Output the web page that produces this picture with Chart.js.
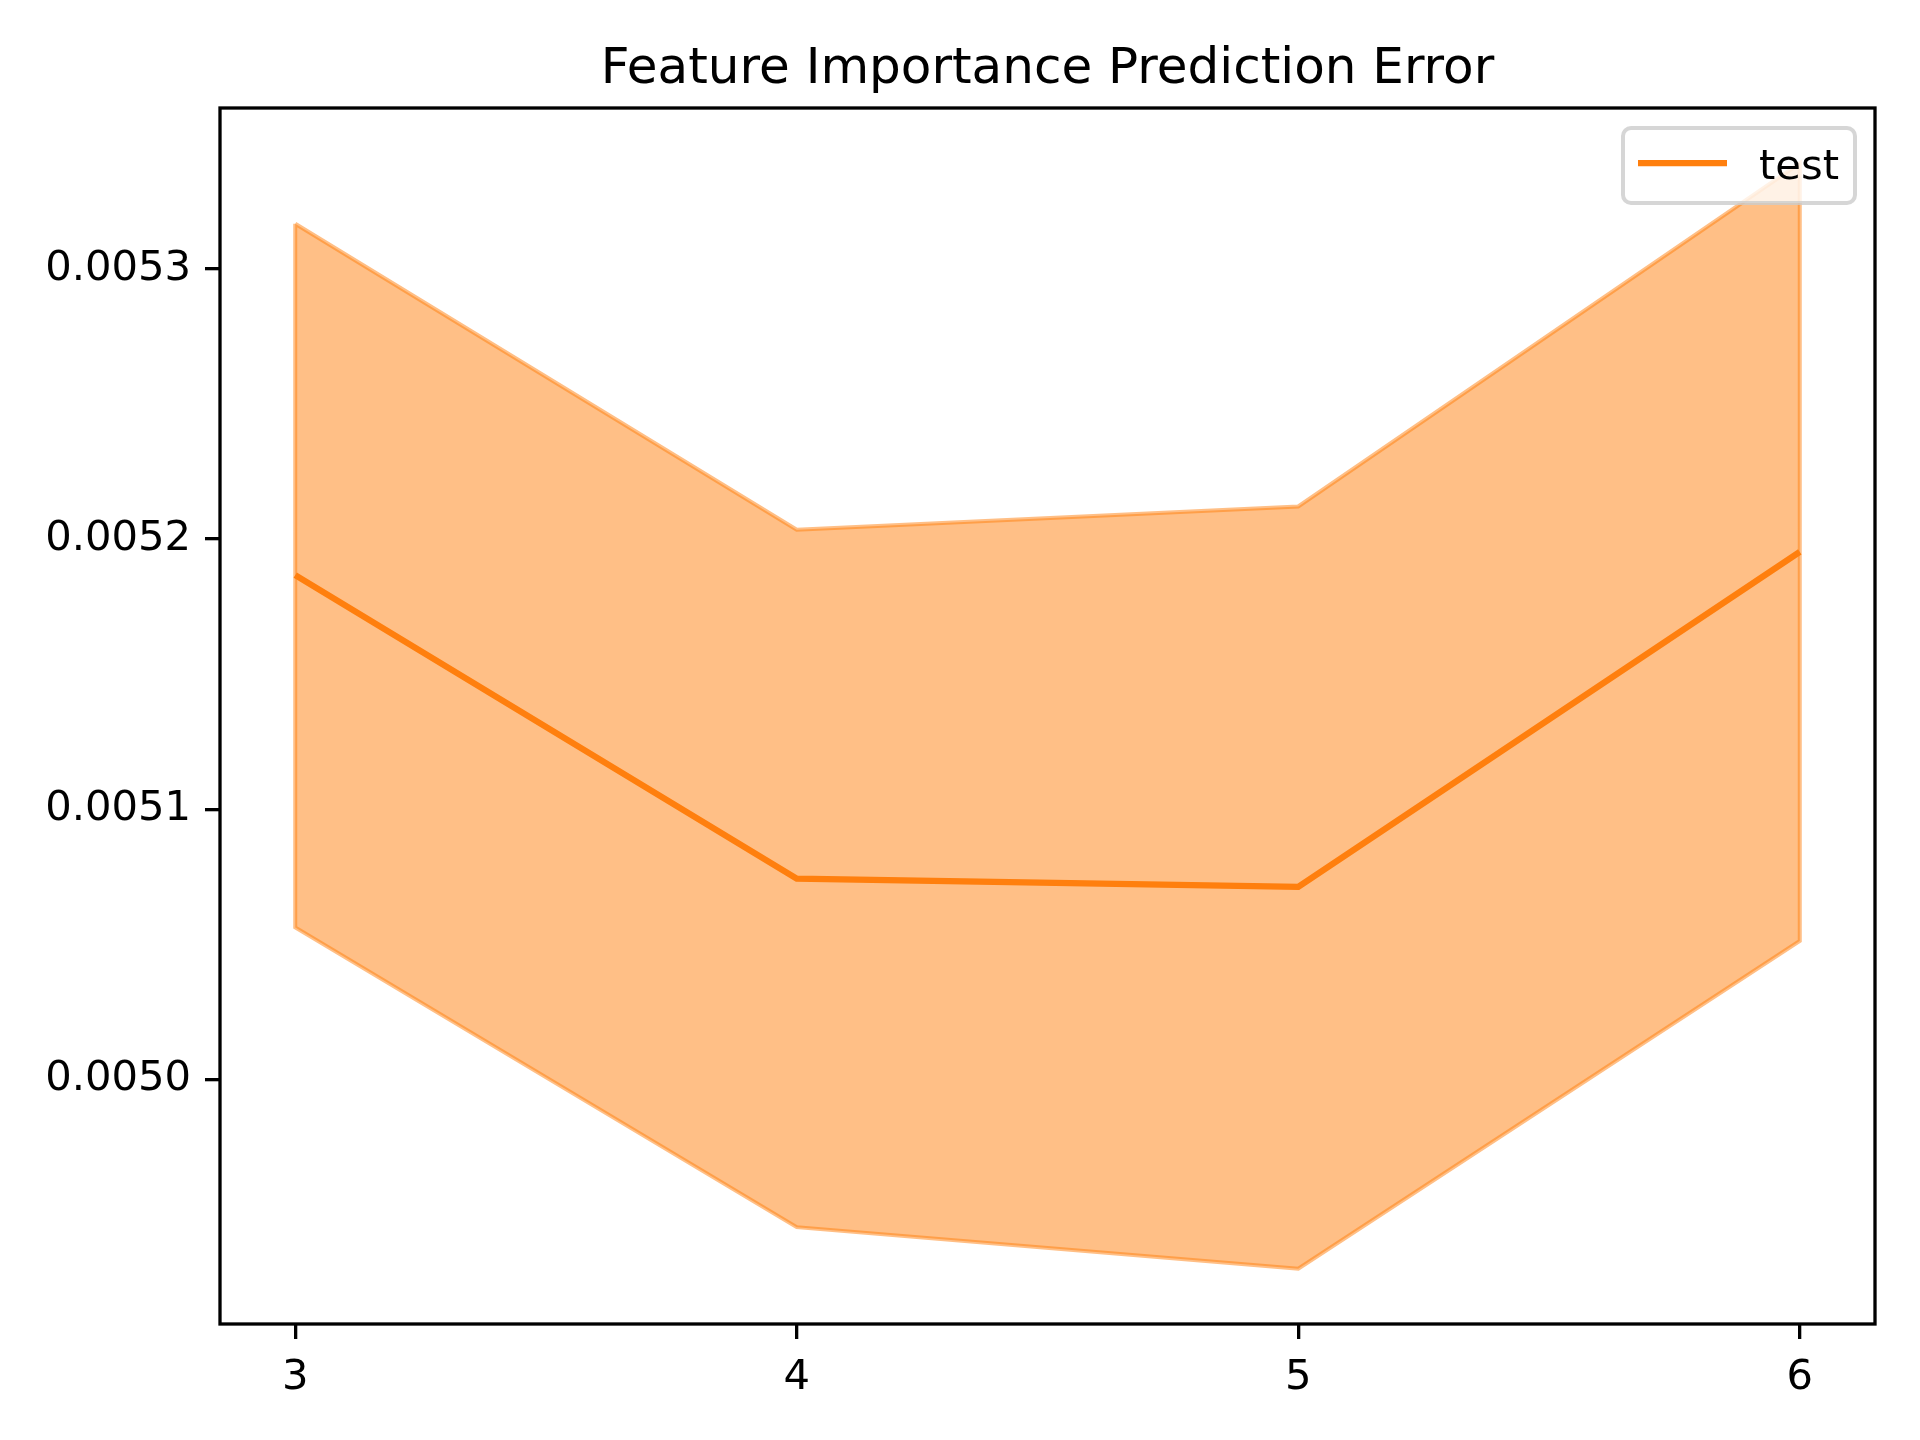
<!DOCTYPE html>
<html>
<head>
<meta charset="utf-8">
<title>Feature Importance Prediction Error</title>
<script src="https://cdn.jsdelivr.net/npm/chart.js@4.4.0/dist/chart.umd.min.js"></script>
<style>
  html, body { margin: 0; padding: 0; background: #fff; }
  #wrap { width: 1920px; height: 1440px; }
</style>
</head>
<body>
<div id="wrap"><canvas id="chart"></canvas></div>
<script>
const xValues = [3, 4, 5, 6];
const meanValues = [0.0051867, 0.0050743, 0.0050712, 0.0051953];
const upperValues = [0.0053168, 0.0052035, 0.0052121, 0.0053392];
const lowerValues = [0.0050562, 0.0049452, 0.0049298, 0.0050512];
const xTicks = [3, 4, 5, 6];
const yTicks = [0.0050, 0.0051, 0.0052, 0.0053];
const seriesLabel = "test";

const ORANGE = "#ff7f0e";
const ORANGE_HALF = "rgba(255,127,14,0.5)";
const FONT = "'DejaVu Sans', sans-serif";

// matplotlib-like 5% margins
const xSpan = xValues[xValues.length - 1] - xValues[0];
const yLo = Math.min(...lowerValues), yHi = Math.max(...upperValues);
const ySpan = yHi - yLo;

const meanPoints = xValues.map((x, i) => ({ x, y: meanValues[i] }));
const bandPoints = [
  ...xValues.map((x, i) => ({ x, y: upperValues[i] })),
  ...xValues.map((x, i) => ({ x, y: lowerValues[i] })).reverse(),
  { x: xValues[0], y: upperValues[0] },
];

const framePlugin = {
  id: "frame",
  afterDraw(chart) {
    const { ctx, chartArea: a } = chart;
    ctx.save();
    ctx.strokeStyle = "#000";
    ctx.lineWidth = 3.3;
    ctx.strokeRect(a.left, a.top, a.right - a.left, a.bottom - a.top);
    ctx.restore();
  },
};

const legendPlugin = {
  id: "mplLegend",
  afterDatasetsDraw(chart) {
    const { ctx, chartArea: a } = chart;
    const left = a.right - 252, right = a.right - 20;
    const top = a.top + 20, bottom = a.top + 95;
    ctx.save();
    ctx.beginPath();
    ctx.roundRect(left, top, right - left, bottom - top, 8);
    ctx.fillStyle = "rgba(255,255,255,0.8)";
    ctx.fill();
    ctx.strokeStyle = "rgba(204,204,204,0.8)";
    ctx.lineWidth = 4;
    ctx.stroke();
    ctx.beginPath();
    ctx.moveTo(a.right - 237, a.top + 55);
    ctx.lineTo(a.right - 148, a.top + 55);
    ctx.strokeStyle = ORANGE;
    ctx.lineWidth = 6.25;
    ctx.stroke();
    ctx.fillStyle = "#000";
    ctx.font = `41.7px ${FONT}`;
    ctx.textBaseline = "alphabetic";
    ctx.textAlign = "left";
    ctx.fillText(seriesLabel, a.right - 116, a.top + 71);
    ctx.restore();
  },
};

const tickGrid = {
  drawOnChartArea: false,
  drawTicks: true,
  tickLength: 15,
  color: "#000",
  lineWidth: 3.3,
};

new Chart(document.getElementById("chart"), {
  type: "line",
  data: {
    datasets: [
      {
        label: seriesLabel,
        data: meanPoints,
        borderColor: ORANGE,
        borderWidth: 6.25,
        pointRadius: 0,
        fill: false,
        tension: 0,
      },
      {
        label: "band",
        data: bandPoints,
        borderColor: ORANGE_HALF,
        backgroundColor: ORANGE_HALF,
        borderWidth: 4,
        pointRadius: 0,
        fill: "shape",
        tension: 0,
      },
    ],
  },
  options: {
    responsive: true,
    maintainAspectRatio: false,
    animation: false,
    devicePixelRatio: 1,
    layout: { padding: { left: 0, right: 45, top: 0, bottom: 0 } },
    plugins: {
      legend: { display: false },
      tooltip: { enabled: false },
      title: {
        display: true,
        fullSize: false,
        text: "Feature Importance Prediction Error",
        color: "#000",
        font: { family: FONT, size: 50, weight: "normal", lineHeight: 1.2 },
        padding: { top: 40, bottom: 8 },
      },
    },
    scales: {
      x: {
        type: "linear",
        min: xValues[0] - 0.05 * xSpan,
        max: xValues[xValues.length - 1] + 0.05 * xSpan,
        border: { display: false },
        grid: tickGrid,
        afterBuildTicks: (s) => { s.ticks = xTicks.map((v) => ({ value: v })); },
        afterFit: (s) => { s.height = 116; },
        ticks: {
          color: "#000",
          padding: 14,
          maxRotation: 0,
          font: { family: FONT, size: 41.7 },
          callback: (v) => String(v),
        },
      },
      y: {
        type: "linear",
        min: yLo - 0.05 * ySpan,
        max: yHi + 0.05 * ySpan,
        border: { display: false },
        grid: tickGrid,
        afterBuildTicks: (s) => { s.ticks = yTicks.map((v) => ({ value: v })); },
        afterFit: (s) => { s.width = 220; },
        ticks: {
          color: "#000",
          padding: 14,
          font: { family: FONT, size: 41.7 },
          callback: (v) => v.toFixed(4),
        },
      },
    },
  },
  plugins: [legendPlugin, framePlugin],
});
</script>
</body>
</html>
